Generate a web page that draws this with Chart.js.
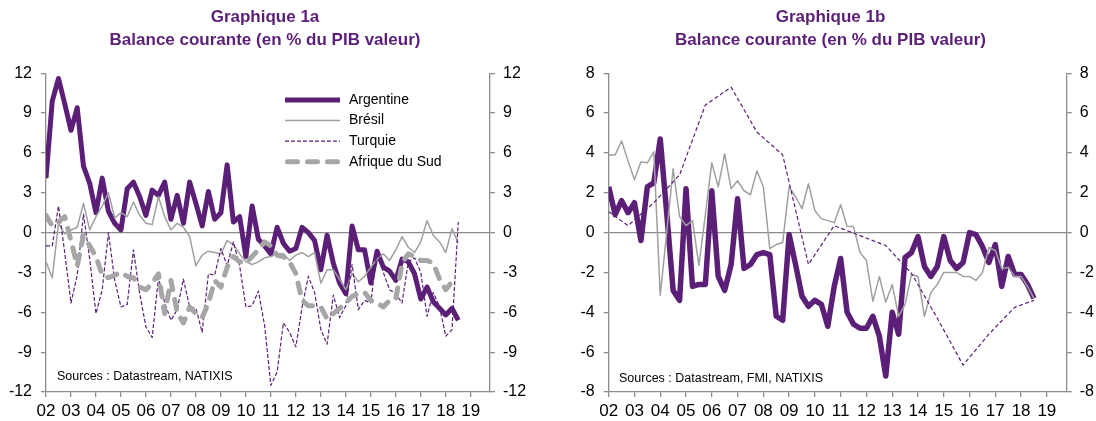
<!DOCTYPE html>
<html lang="fr">
<head>
<meta charset="utf-8">
<script src="https://cdn.jsdelivr.net/npm/chart.js"></script>
<style>
  html, body { margin: 0; padding: 0; background: #fff; }
  body { width: 1096px; height: 421px; position: relative; overflow: hidden; }
  canvas { position: absolute; top: 0; }
  #graphique-1a { left: 0; }
  #graphique-1b { left: 565px; }
</style>
</head>
<body>
<canvas id="graphique-1a" width="530" height="421"></canvas>
<canvas id="graphique-1b" width="531" height="421"></canvas>
<script>
const violet = "#5b1f78";
const gris = "#a0a0a0";
const grisAxe = "#8c8c8c";
const police = "'Liberation Sans', Arial, sans-serif";

// Axe des années (données trimestrielles à partir de 2002 T1)
const premiereAnnee = 2002;
const etiquettesAnnees = ["02", "03", "04", "05", "06", "07", "08", "09", "10",
    "11", "12", "13", "14", "15", "16", "17", "18", "19"];

// Graphique 1a
const argentine = [
    4.1, 9.9, 11.6, 9.7,
    7.7, 9.4, 5.0, 3.7,
    1.5, 4.1, 1.6, 0.7,
    0.2, 3.3, 3.8, 2.7,
    1.3, 3.2, 2.8, 3.8,
    1.0, 2.8, 0.7, 3.8,
    2.2, 0.5, 3.1, 1.0,
    1.5, 5.1, 0.8, 1.2,
    -1.8, 2.0, -0.5, -1.0,
    -1.6, 0.4, -0.8, -1.4,
    -1.2, 0.4, 0.0, -0.6,
    -2.8, -0.2, -2.3, -3.8,
    -4.6, 0.5, -1.3, -1.3,
    -3.8, -1.4, -2.6, -2.9,
    -3.6, -2.0, -2.2, -3.1,
    -5.0, -4.1, -5.2, -5.7,
    -6.2, -5.7, -6.6
];
const bresil = [
    -2.2, -3.4, 0.7, -0.1,
    0.2, 0.4, 2.2, 0.2,
    1.2, 2.0, 3.0, 1.1,
    1.5, 1.2, 2.3, 1.3,
    0.7, 0.6, 2.7, 1.2,
    0.2, 0.7, 0.4, -0.3,
    -2.5, -1.7, -1.4, -1.5,
    -1.6, -0.6, -0.9, -1.6,
    -2.2, -2.4, -2.2, -1.9,
    -1.8, -1.6, -1.6, -2.1,
    -1.7, -1.5, -1.8, -1.5,
    -3.8, -2.8, -2.8, -3.5,
    -4.3, -3.1, -3.7, -3.3,
    -2.6, -2.0, -1.6, -2.1,
    -1.3, -0.3, -1.1, -1.5,
    -0.7, 0.9, -0.2, -0.7,
    -1.5, 0.3, -0.8
];
const turquie = [
    -1.0, -1.0, 2.0, -1.5,
    -5.3, -3.2, 1.4, -2.0,
    -6.1, -4.3, 0.0, -3.6,
    -5.6, -5.4, -1.3, -4.6,
    -7.1, -7.9, -3.4, -5.3,
    -6.6, -5.8, -3.5, -5.6,
    -5.7, -7.5, -3.1, -3.2,
    -1.2, -2.5, -0.7, -2.5,
    -5.6, -5.5, -4.4, -7.0,
    -11.5, -10.5, -6.8, -7.5,
    -8.6, -5.6, -3.3, -4.5,
    -7.3, -8.4, -4.7, -6.4,
    -5.5, -2.4, -5.8, -5.1,
    -5.3, -1.3, -3.0, -4.3,
    -4.6, -5.3, -2.2, -1.9,
    -3.0, -6.3, -4.5, -5.6,
    -7.8, -7.3, 0.8
];
const afriqueDuSud = [
    1.3, 0.5, 0.8, 1.2,
    -0.6, -2.5, -0.2, -1.0,
    -1.8, -3.2, -3.4, -3.2,
    -3.0, -3.3, -3.4, -4.1,
    -4.3, -3.8, -3.1, -6.1,
    -3.6, -6.0, -6.8, -5.6,
    -6.1, -6.4, -5.3, -3.6,
    -4.1, -2.6, -1.8, -2.2,
    -2.3, -1.8, -1.3, -0.7,
    -1.0, -1.7, -1.8, -2.2,
    -3.1, -5.1, -5.5, -5.5,
    -5.6, -6.5, -6.1, -5.7,
    -5.3, -4.8, -4.6, -4.5,
    -5.1, -5.3, -5.6, -5.1,
    -5.0, -2.3, -1.6, -1.8,
    -2.1, -2.1, -2.3, -3.5,
    -4.3, -3.7, -3.6
];

// Graphique 1b
const inde = [
    2.3, 0.9, 1.6, 1.0,
    1.5, -0.4, 2.3, 2.5,
    4.7, 1.0, -2.9, -3.4,
    2.2, -2.7, -2.6, -2.6,
    2.1, -2.2, -2.9, -1.6,
    1.7, -1.8, -1.6, -1.1,
    -1.0, -1.1, -4.2, -4.4,
    -0.1, -1.6, -3.2, -3.7,
    -3.4, -3.6, -4.7, -2.7,
    -1.3, -4.0, -4.6, -4.8,
    -4.8, -4.2, -5.2, -7.2,
    -4.0, -5.1, -1.25, -1.0,
    -0.2, -1.7, -2.2, -1.7,
    -0.2, -1.4, -1.8, -1.5,
    0.0, -0.1, -0.7, -1.5,
    -0.6, -2.7, -1.2, -2.1,
    -2.1, -2.6, -3.3
];
const indonesie = [
    3.9, 3.9, 4.6, 3.6,
    2.65, 3.55, 3.5, 4.05,
    -3.15, 0.0, 3.2, 0.8,
    0.35, 0.6, -1.65, 0.9,
    3.5, 2.3, 3.95, 2.2,
    2.6, 2.1, 1.9, 3.1,
    2.3, -0.8, -0.6, -0.5,
    2.3, 1.8, 1.2, 2.45,
    1.1, 0.7, 0.6, 0.5,
    1.4, 0.3, 0.3, -1.0,
    -1.4, -3.45, -2.2, -3.5,
    -2.6, -4.2, -3.6, -2.1,
    -2.2, -4.2, -3.0, -2.6,
    -2.0, -2.0, -2.0, -2.2,
    -2.2, -2.4, -2.0, -0.75,
    -0.9, -1.8, -1.75, -2.2,
    -2.2, -2.7, -3.3
];
// Afrique : points annuels
const afriqueDates = [2002, 2002.75, 2003.75, 2004.75, 2005.75, 2006.75, 2007.75, 2008.75,
    2009.75, 2010.75, 2011.75, 2012.75, 2013.75, 2014.75, 2015.75, 2016.75, 2017.75, 2018.5];
const afrique = [1.05, 0.35, 1.5, 2.9, 6.4, 7.3, 5.05, 3.9,
    -1.6, 0.35, -0.15, -0.65, -2.05, -4.3, -6.65, -5.1, -3.75, -3.4];

function trimestres(valeurs) {
    return valeurs.map((v, i) => ({ x: premiereAnnee + i / 4, y: v }));
}

// Légende et sources dessinées dans la zone du graphique
const legendeInterne = {
    id: "legendeInterne",
    afterDatasetsDraw(chart, args, opts) {
        const ctx = chart.ctx;
        ctx.save();
        ctx.textBaseline = "middle";
        ctx.fillStyle = "#000";
        ctx.font = `14px ${police}`;
        chart.data.datasets.forEach((ds, i) => {
            const y = opts.y0 + i * opts.pas;
            const cap = ds.borderCapStyle || "butt";
            const marge = cap === "round" ? ds.borderWidth / 2 : 0;
            ctx.beginPath();
            ctx.strokeStyle = ds.borderColor;
            ctx.lineWidth = ds.borderWidth;
            ctx.lineCap = cap;
            ctx.setLineDash(ds.borderDash || []);
            ctx.moveTo(opts.x1 + marge, y);
            ctx.lineTo(opts.x2 - marge, y);
            ctx.stroke();
            ctx.fillText(ds.label, opts.xTexte, y);
        });
        ctx.setLineDash([]);
        ctx.font = `12.5px ${police}`;
        ctx.fillText(opts.sources, opts.xSources, opts.ySources);
        ctx.restore();
    }
};

function creerGraphique(id, titre, datasets, yMin, yMax, pas, largeurs, legende) {
    const ctx = document.getElementById(id).getContext("2d");
    const axeY = (position, largeur) => ({
        type: "linear",
        position: position,
        min: yMin,
        max: yMax,
        ticks: { stepSize: pas, color: "#000", padding: position === "left" ? 9 : 8, font: { family: police, size: 16 } },
        grid: {
            drawOnChartArea: position === "left",
            color: c => (c.tick && c.tick.value === 0 ? grisAxe : "rgba(0,0,0,0)"),
            tickColor: grisAxe,
            tickLength: 5,
            lineWidth: 1.3
        },
        border: { display: true, color: grisAxe, width: 1.3 },
        afterFit: s => { s.width = largeur; }
    });
    return new Chart(ctx, {
        type: "line",
        data: { datasets: datasets },
        options: {
            responsive: false,
            animation: false,
            layout: { padding: 0 },
            elements: {
                point: { radius: 0 },
                line: { tension: 0, borderJoinStyle: "round" }
            },
            scales: {
                x: {
                    type: "linear",
                    min: premiereAnnee,
                    max: 2019.77,
                    afterBuildTicks: axe => {
                        axe.ticks = etiquettesAnnees.map((e, i) => ({ value: premiereAnnee + i }));
                    },
                    ticks: {
                        color: "#000",
                        padding: 4,
                        maxRotation: 0,
                        autoSkip: false,
                        font: { family: police, size: 17 },
                        callback: (v, i) => etiquettesAnnees[i]
                    },
                    grid: { drawOnChartArea: false, color: grisAxe, tickLength: 5, lineWidth: 1.3 },
                    border: { display: true, color: grisAxe, width: 1.3 },
                    afterFit: s => { s.height = 29; }
                },
                y: axeY("left", largeurs[0]),
                y2: axeY("right", largeurs[1])
            },
            plugins: {
                legend: { display: false },
                tooltip: { enabled: false },
                title: {
                    display: true,
                    text: titre,
                    color: violet,
                    font: { family: police, size: 17, weight: "bold", lineHeight: 1.35 },
                    padding: { top: 5.5, bottom: 21.8 }
                },
                legendeInterne: legende
            }
        },
        plugins: [legendeInterne]
    });
}

creerGraphique("graphique-1a",
    ["Graphique 1a", "Balance courante (en % du PIB valeur)"],
    [
        { label: "Argentine", data: trimestres(argentine), borderColor: violet, borderWidth: 5, order: 4 },
        { label: "Brésil", data: trimestres(bresil), borderColor: gris, borderWidth: 1.5, order: 3 },
        { label: "Turquie", data: trimestres(turquie), borderColor: violet, borderWidth: 1.2, borderDash: [4, 2], order: 2 },
        { label: "Afrique du Sud", data: trimestres(afriqueDuSud), borderColor: "#a6a6a6", borderWidth: 5,
          borderDash: [10, 10], borderCapStyle: "round", order: 1 }
    ],
    -12, 12, 3, [46, 40],
    { x1: 285, x2: 340, xTexte: 349, y0: 100, pas: 20.6,
      sources: "Sources : Datastream, NATIXIS", xSources: 57, ySources: 377 });

creerGraphique("graphique-1b",
    ["Graphique 1b", "Balance courante (en % du PIB valeur)"],
    [
        { label: "Inde", data: trimestres(inde), borderColor: violet, borderWidth: 5.5, order: 3 },
        { label: "Indonésie", data: trimestres(indonesie), borderColor: gris, borderWidth: 1.5, order: 2 },
        { label: "Afrique", data: afriqueDates.map((d, i) => ({ x: d, y: afrique[i] })),
          borderColor: violet, borderWidth: 1.2, borderDash: [4, 2.5], order: 1 }
    ],
    -8, 8, 2, [43.7, 29.3],
    { x1: 852, x2: 907, xTexte: 917, y0: 101.7, pas: 25,
      sources: "Sources : Datastream, FMI, NATIXIS", xSources: 619 - 565, ySources: 379 });
</script>
</body>
</html>
